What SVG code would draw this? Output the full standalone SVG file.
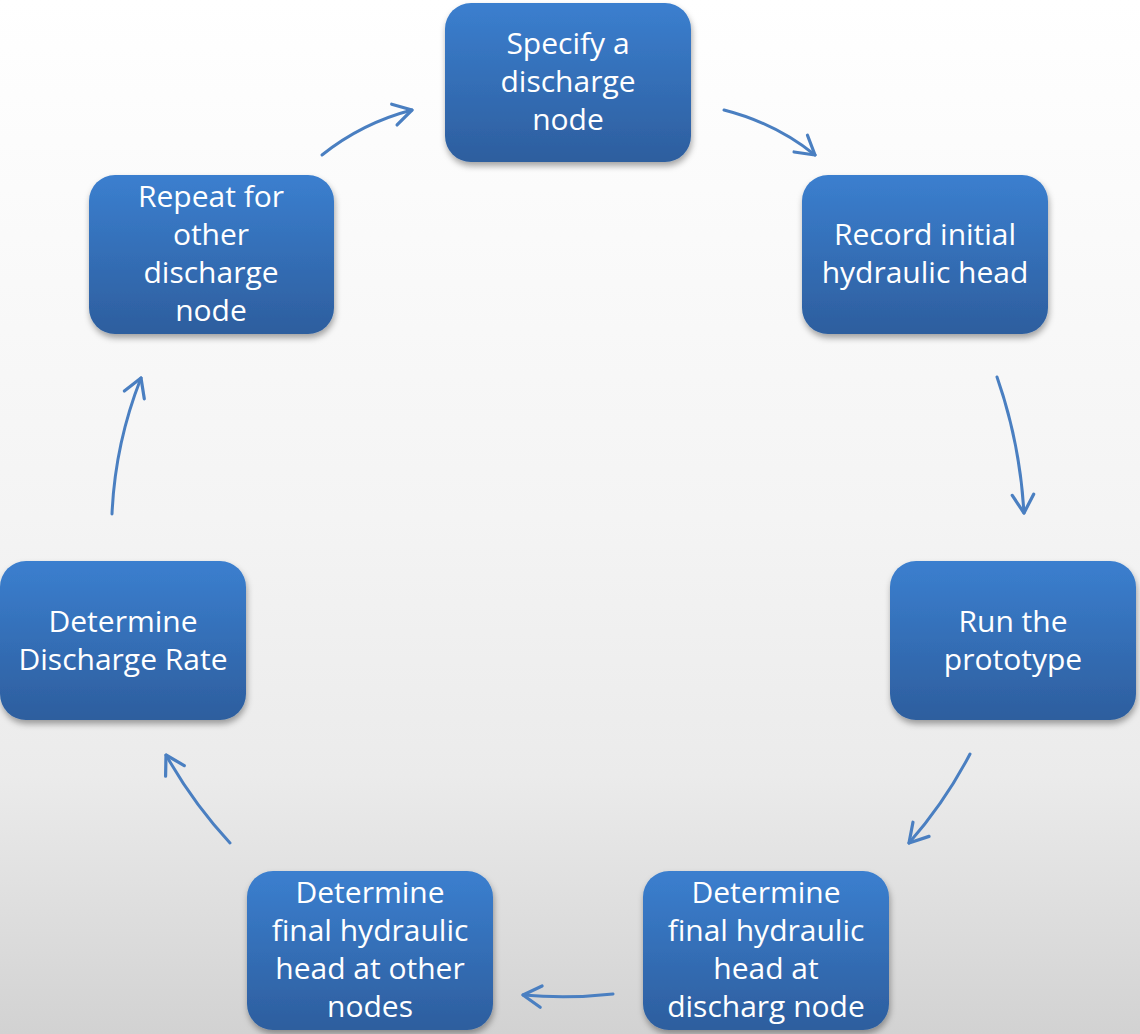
<svg xmlns="http://www.w3.org/2000/svg" width="1140" height="1034" viewBox="0 0 1140 1034">
<defs>
<linearGradient id="bg" x1="0" y1="0" x2="0" y2="1">
<stop offset="0" stop-color="#ffffff"/>
<stop offset="0.5" stop-color="#f4f4f4"/>
<stop offset="0.75" stop-color="#ebebeb"/>
<stop offset="1" stop-color="#d2d2d2"/>
</linearGradient>
<linearGradient id="box" x1="0" y1="0" x2="0" y2="1">
<stop offset="0" stop-color="#3b7fcf"/>
<stop offset="1" stop-color="#2d5e9e"/>
</linearGradient>
<filter id="sh" x="-10%" y="-10%" width="125%" height="130%">
<feDropShadow dx="1" dy="4" stdDeviation="3" flood-color="#000" flood-opacity="0.35"/>
</filter>
<marker id="ah" markerUnits="userSpaceOnUse" markerWidth="30" markerHeight="30" refX="0" refY="0" viewBox="-22 -14 26 28" orient="auto">
<path d="M-17,-10 L0,0 L-17,10" fill="none" stroke="#4a7fc1" stroke-width="3" stroke-linecap="round" stroke-linejoin="round"/>
</marker>
</defs>
<style>
.node rect{fill:url(#box);filter:url(#sh)}
.node text{fill:#ffffff;font-family:"Open Sans","Liberation Sans",sans-serif;font-size:30px;text-anchor:middle}
.conn path{fill:none;stroke:#4a7fc1;stroke-width:3;stroke-linecap:round;marker-end:url(#ah)}
</style>
<rect x="0" y="0" width="1140" height="1034" fill="url(#bg)"/>
<g class="conn" id="connectors">
<path d="M322,155 Q362,123 412,110"/>
<path d="M724,110 Q775,123 815,155"/>
<path d="M997,377 Q1020,443 1024,513"/>
<path d="M970,754 Q945,802 909,843"/>
<path d="M613,994 Q568,999 523,995"/>
<path d="M230,843 Q193,803 166,755"/>
<path d="M112,514 Q115,444 141,378"/>
</g>
<g class="node" id="n1"><rect x="445" y="3" width="246" height="159" rx="26"/>
<text x="568" y="54">Specify a</text><text x="568" y="92">discharge</text><text x="568" y="130">node</text></g>
<g class="node" id="n2"><rect x="802" y="175" width="246" height="159" rx="26"/>
<text x="925" y="245">Record initial</text><text x="925" y="283">hydraulic head</text></g>
<g class="node" id="n3"><rect x="890" y="561" width="246" height="159" rx="26"/>
<text x="1013" y="632">Run the</text><text x="1013" y="670">prototype</text></g>
<g class="node" id="n4"><rect x="643" y="871" width="246" height="159" rx="26"/>
<text x="766" y="903">Determine</text><text x="766" y="941">final hydraulic</text><text x="766" y="979">head at</text><text x="766" y="1017">discharg node</text></g>
<g class="node" id="n5"><rect x="247" y="871" width="246" height="159" rx="26"/>
<text x="370" y="903">Determine</text><text x="370" y="941">final hydraulic</text><text x="370" y="979">head at other</text><text x="370" y="1017">nodes</text></g>
<g class="node" id="n6"><rect x="0" y="561" width="246" height="159" rx="26"/>
<text x="123" y="632">Determine</text><text x="123" y="670">Discharge Rate</text></g>
<g class="node" id="n7"><rect x="89" y="175" width="245" height="159" rx="26"/>
<text x="211" y="207">Repeat for</text><text x="211" y="245">other</text><text x="211" y="283">discharge</text><text x="211" y="321">node</text></g>
</svg>
